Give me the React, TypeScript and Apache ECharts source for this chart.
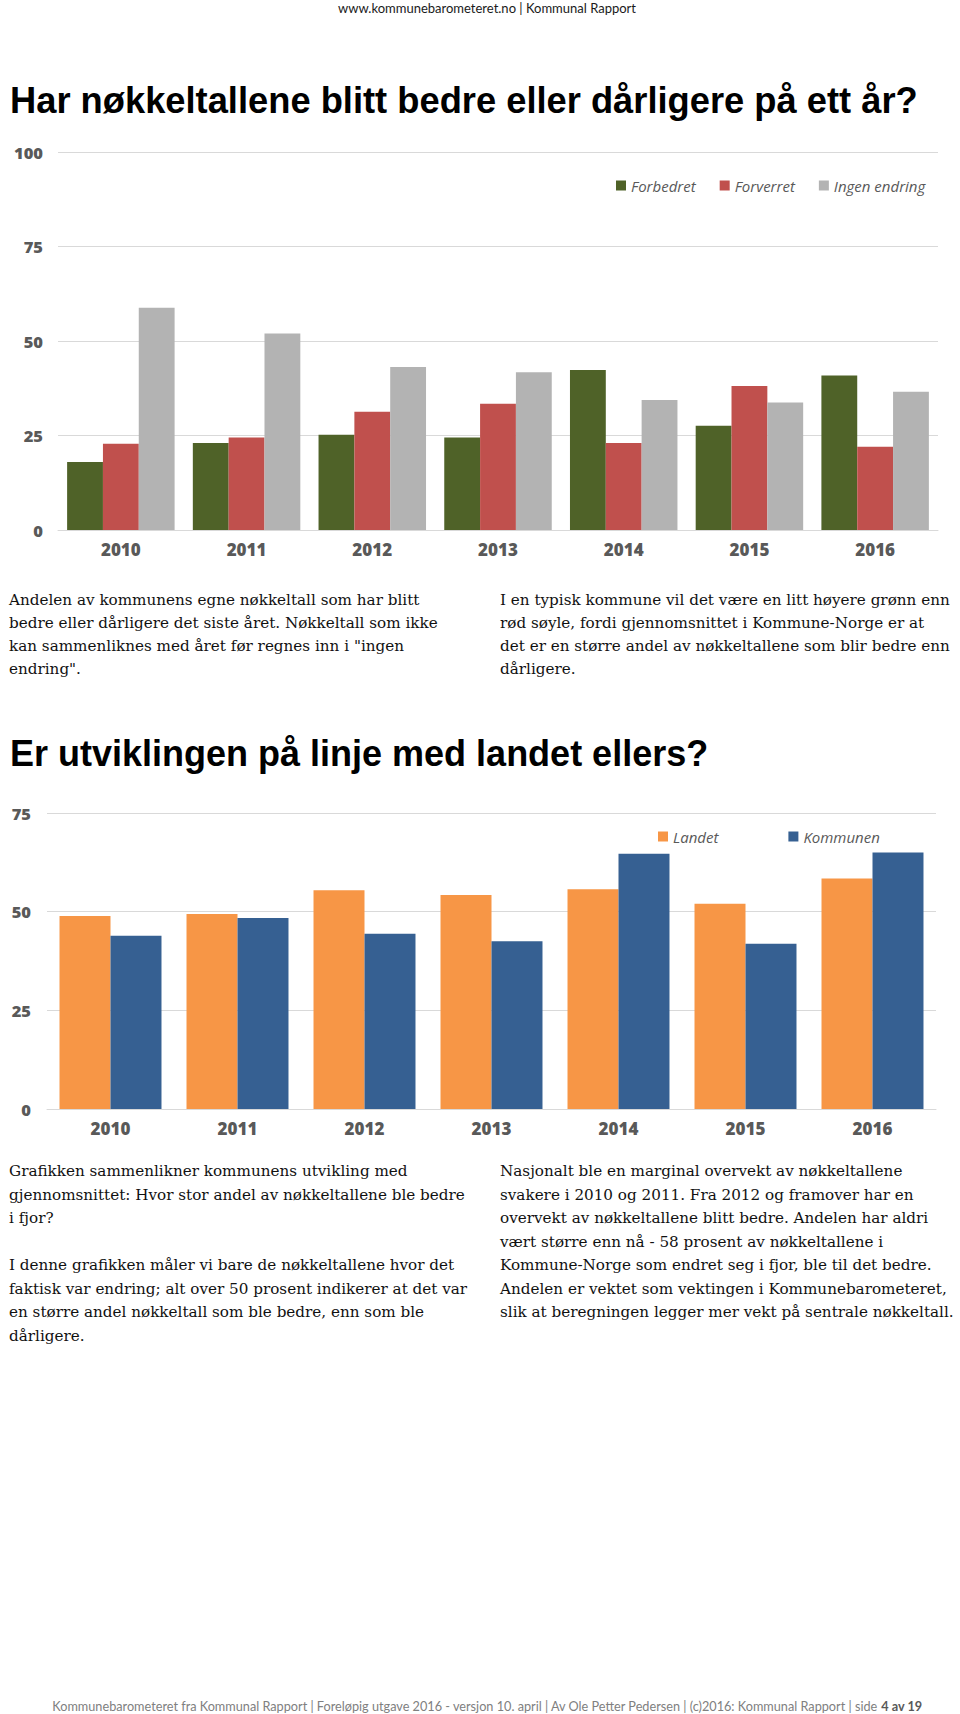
import React, { useEffect, useRef } from "react";
import * as echarts from "echarts";

const categories = ["2010", "2011", "2012", "2013", "2014", "2015", "2016"];

// Chart 1: share of key figures improved / worsened / unchanged
const forbedret = [18.0, 23.0, 25.2, 24.5, 42.3, 27.6, 40.9];
const forverret = [22.8, 24.5, 31.3, 33.4, 23.0, 38.1, 22.0];
const ingenEndring = [58.8, 52.0, 43.1, 41.7, 34.4, 33.7, 36.6];
const chart1Ticks = [0, 25, 50, 75, 100];

// Chart 2: national vs municipality
const landet = [48.9, 49.4, 55.4, 54.2, 55.7, 52.0, 58.4];
const kommunen = [43.9, 48.4, 44.4, 42.5, 64.7, 41.9, 65.0];
const chart2Ticks = [0, 25, 50, 75];

const headerText = "www.kommunebarometeret.no | Kommunal Rapport";
const title1 = "Har nøkkeltallene blitt bedre eller dårligere på ett år?";
const title2 = "Er utviklingen på linje med landet ellers?";

const para1Left = [
  "Andelen av kommunens egne nøkkeltall som har blitt",
  "bedre eller dårligere det siste året. Nøkkeltall som ikke",
  "kan sammenliknes med året før regnes inn i \"ingen",
  "endring\".",
];
const para1Right = [
  "I en typisk kommune vil det være en litt høyere grønn enn",
  "rød søyle, fordi gjennomsnittet i Kommune-Norge er at",
  "det er en større andel av nøkkeltallene som blir bedre enn",
  "dårligere.",
];
const para2Left = [
  "Grafikken sammenlikner kommunens utvikling med",
  "gjennomsnittet: Hvor stor andel av nøkkeltallene ble bedre",
  "i fjor?",
  "",
  "I denne grafikken måler vi bare de nøkkeltallene hvor det",
  "faktisk var endring; alt over 50 prosent indikerer at det var",
  "en større andel nøkkeltall som ble bedre, enn som ble",
  "dårligere.",
];
const para2Right = [
  "Nasjonalt ble en marginal overvekt av nøkkeltallene",
  "svakere i 2010 og 2011. Fra 2012 og framover har en",
  "overvekt av nøkkeltallene blitt bedre. Andelen har aldri",
  "vært større enn nå - 58 prosent av nøkkeltallene i",
  "Kommune-Norge som endret seg i fjor, ble til det bedre.",
  "Andelen er vektet som vektingen i Kommunebarometeret,",
  "slik at beregningen legger mer vekt på sentrale nøkkeltall.",
];
const footerMain =
  "Kommunebarometeret fra Kommunal Rapport | Foreløpig utgave 2016 - versjon 10. april | Av Ole Petter Pedersen | (c)2016: Kommunal Rapport | side ";
const footerPage = "4 av 19";

const AXIS_COLOR = "#595959";
const GRID_COLOR = "#D9D9D9";
const SERIF = '"DejaVu Serif", "Liberation Serif", serif';
const SANS_HEAD = '"Liberation Sans", Arial, sans-serif';
const SANS_UI = '"Open Sans", "Noto Sans", sans-serif';

function paraLines(lines: string[], x: number, y0: number, step: number) {
  const out: any[] = [];
  lines.forEach((t, i) => {
    if (!t) return;
    out.push({
      type: "text",
      x,
      y: y0 + i * step,
      style: {
        text: t,
        fill: "#111111",
        fontSize: 15.2,
        fontFamily: SERIF,
        align: "left",
        verticalAlign: "middle",
      },
    });
  });
  return out;
}

export default function App() {
  const ref = useRef<HTMLDivElement>(null);
  useEffect(() => {
    if (!ref.current) return;
    const chart = echarts.init(ref.current, undefined, { renderer: "svg" });

    const xAxisCommon = (gridIndex: number) => ({
      type: "category",
      gridIndex,
      data: categories,
      axisTick: { show: false },
      axisLine: { show: true, lineStyle: { color: GRID_COLOR, width: 1 } },
      axisLabel: {
        color: AXIS_COLOR,
        fontSize: 17,
        fontWeight: 800,
        fontFamily: SANS_UI,
        margin: 11,
      },
    });
    const yAxisCommon = (gridIndex: number, ticks: number[], margin: number) => ({
      type: "value",
      gridIndex,
      min: ticks[0],
      max: ticks[ticks.length - 1],
      interval: ticks[1] - ticks[0],
      axisLine: { show: false },
      axisTick: { show: false },
      splitLine: { show: true, lineStyle: { color: GRID_COLOR, width: 1 } },
      axisLabel: {
        color: AXIS_COLOR,
        fontSize: 16.5,
        fontWeight: 800,
        fontFamily: SANS_UI,
        margin,
      },
    });

    const legendText = {
      color: AXIS_COLOR,
      fontSize: 15,
      fontStyle: "italic",
      fontFamily: SANS_UI,
    };

    chart.setOption({
      animation: false,
      backgroundColor: "#ffffff",
      grid: [
        { left: 58, right: 22, top: 152, height: 378 },
        { left: 47, right: 24, top: 813, height: 296 },
      ],
      xAxis: [xAxisCommon(0), xAxisCommon(1)],
      yAxis: [yAxisCommon(0, chart1Ticks, 15), yAxisCommon(1, chart2Ticks, 16)],
      legend: [
        {
          data: ["Forbedret", "Forverret", "Ingen endring"],
          left: 616,
          top: 178,
          padding: 0,
          icon: "rect",
          itemWidth: 10,
          itemHeight: 10,
          itemGap: 24,
          textStyle: legendText,
        },
        {
          data: ["Landet", "Kommunen"],
          left: 658,
          top: 829,
          padding: 0,
          icon: "rect",
          itemWidth: 10,
          itemHeight: 10,
          itemGap: 70,
          textStyle: legendText,
        },
      ],
      series: [
        {
          name: "Forbedret",
          type: "bar",
          xAxisIndex: 0,
          yAxisIndex: 0,
          data: forbedret,
          itemStyle: { color: "#4F6228" },
          barGap: "0%",
          barCategoryGap: "14.5%",
        },
        {
          name: "Forverret",
          type: "bar",
          xAxisIndex: 0,
          yAxisIndex: 0,
          data: forverret,
          itemStyle: { color: "#C0504D" },
          barGap: "0%",
          barCategoryGap: "14.5%",
        },
        {
          name: "Ingen endring",
          type: "bar",
          xAxisIndex: 0,
          yAxisIndex: 0,
          data: ingenEndring,
          itemStyle: { color: "#B3B3B3" },
          barGap: "0%",
          barCategoryGap: "14.5%",
        },
        {
          name: "Landet",
          type: "bar",
          xAxisIndex: 1,
          yAxisIndex: 1,
          data: landet,
          itemStyle: { color: "#F79646" },
          barGap: "0%",
          barCategoryGap: "19.7%",
        },
        {
          name: "Kommunen",
          type: "bar",
          xAxisIndex: 1,
          yAxisIndex: 1,
          data: kommunen,
          itemStyle: { color: "#366092" },
          barGap: "0%",
          barCategoryGap: "19.7%",
        },
      ],
      graphic: [
        {
          type: "text",
          x: 487,
          y: 8,
          style: {
            text: headerText,
            fill: "#1a1a1a",
            fontSize: 13,
            fontFamily: "Lato, sans-serif",
            align: "center",
            verticalAlign: "middle",
          },
        },
        {
          type: "text",
          x: 10,
          y: 100,
          style: {
            text: title1,
            fill: "#000000",
            fontSize: 36.3,
            fontWeight: "bold",
            fontFamily: SANS_HEAD,
            align: "left",
            verticalAlign: "middle",
          },
        },
        {
          type: "text",
          x: 10,
          y: 753,
          style: {
            text: title2,
            fill: "#000000",
            fontSize: 36,
            fontWeight: "bold",
            fontFamily: SANS_HEAD,
            align: "left",
            verticalAlign: "middle",
          },
        },
        ...paraLines(para1Left, 9, 600, 23),
        ...paraLines(para1Right, 500, 600, 23),
        ...paraLines(para2Left, 9, 1171, 23.5),
        ...paraLines(para2Right, 500, 1171, 23.5),
        {
          type: "text",
          x: 487,
          y: 1706,
          style: {
            text: "{a|" + footerMain + "}{b|" + footerPage + "}",
            align: "center",
            verticalAlign: "middle",
            rich: {
              a: { fill: "#808080", fontSize: 12.7, fontFamily: "Lato, sans-serif" },
              b: {
                fill: "#595959",
                fontSize: 12.7,
                fontWeight: "bold",
                fontFamily: "Lato, sans-serif",
              },
            },
          },
        },
      ],
    });
    return () => chart.dispose();
  }, []);
  return (
    <div
      ref={ref}
      style={{ position: "absolute", left: 0, top: 0, width: 960, height: 1714 }}
    />
  );
}
